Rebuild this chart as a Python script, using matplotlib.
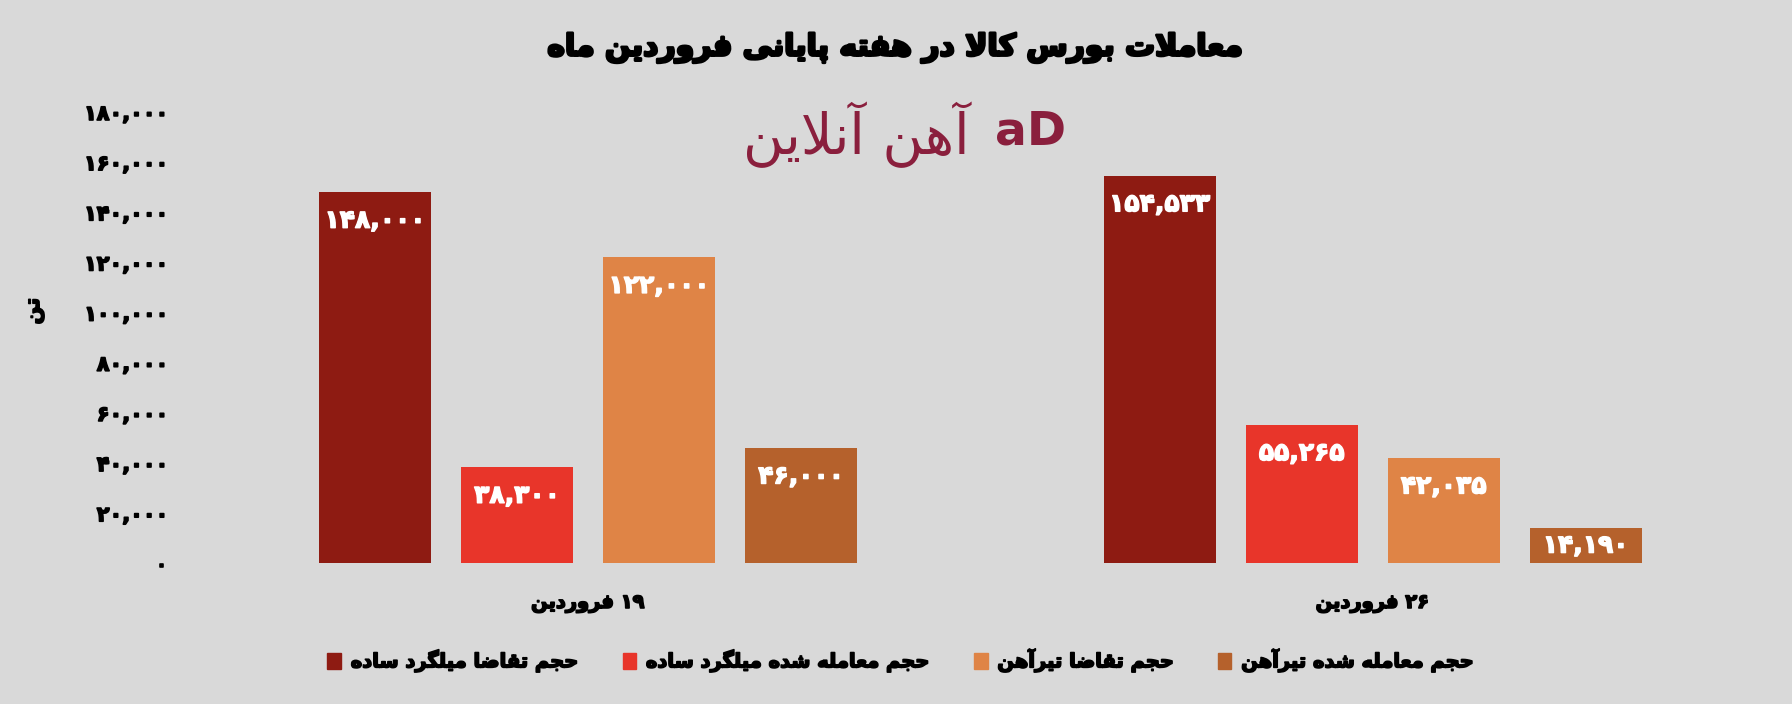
import re
import matplotlib
matplotlib.use("Agg")
import matplotlib.pyplot as plt
import matplotlib.patheffects as pe
from matplotlib.patches import Patch

# chart data
categories = ["۱۹ فروردین", "۲۶ فروردین"]
series_names = [
    "حجم تقاضا میلگرد ساده",
    "حجم معامله شده میلگرد ساده",
    "حجم تقاضا تیرآهن",
    "حجم معامله شده تیرآهن",
]
demand_rebar = [148000, 154533]
traded_rebar = [38300, 55265]
demand_beam = [122000, 42035]
traded_beam = [46000, 14190]
y_ticks = [0, 20000, 40000, 60000, 80000, 100000, 120000, 140000, 160000, 180000]

title = "معاملات بورس کالا در هفته پایانی فروردین ماه"
y_label = "تن"
logo_text = "آهن آنلاین"

colors = ["#8e1b12", "#e8352a", "#df8446", "#b5612c"]
bg = "#d9d9d9"

# --- tiny arabic/persian shaper (matplotlib has no text shaping) ---
FORMS = {
    "ا": ("\ufe8d", "\ufe8e", None, None),
    "آ": ("\ufe81", "\ufe82", None, None),
    "ب": ("\ufe8f", "\ufe90", "\ufe91", "\ufe92"),
    "پ": ("\ufb56", "\ufb57", "\ufb58", "\ufb59"),
    "ت": ("\ufe95", "\ufe96", "\ufe97", "\ufe98"),
    "ج": ("\ufe9d", "\ufe9e", "\ufe9f", "\ufea0"),
    "ح": ("\ufea1", "\ufea2", "\ufea3", "\ufea4"),
    "د": ("\ufea9", "\ufeaa", None, None),
    "ر": ("\ufead", "\ufeae", None, None),
    "ز": ("\ufeaf", "\ufeb0", None, None),
    "س": ("\ufeb1", "\ufeb2", "\ufeb3", "\ufeb4"),
    "ش": ("\ufeb5", "\ufeb6", "\ufeb7", "\ufeb8"),
    "ض": ("\ufebd", "\ufebe", "\ufebf", "\ufec0"),
    "ع": ("\ufec9", "\ufeca", "\ufecb", "\ufecc"),
    "ف": ("\ufed1", "\ufed2", "\ufed3", "\ufed4"),
    "ق": ("\ufed5", "\ufed6", "\ufed7", "\ufed8"),
    "ک": ("\ufb8e", "\ufb8f", "\ufb90", "\ufb91"),
    "گ": ("\ufb92", "\ufb93", "\ufb94", "\ufb95"),
    "ل": ("\ufedd", "\ufede", "\ufedf", "\ufee0"),
    "م": ("\ufee1", "\ufee2", "\ufee3", "\ufee4"),
    "ن": ("\ufee5", "\ufee6", "\ufee7", "\ufee8"),
    "ه": ("\ufee9", "\ufeea", "\ufeeb", "\ufeec"),
    "و": ("\ufeed", "\ufeee", None, None),
    "ی": ("\ufbfc", "\ufbfd", "\ufbfe", "\ufbff"),
}
LAM_ALEF = {"ا": ("\ufefb", "\ufefc"), "آ": ("\ufef5", "\ufef6")}


def dual(c):
    return c in FORMS and FORMS[c][2] is not None


def shape(text):
    out = []
    i = 0
    n = len(text)
    while i < n:
        c = text[i]
        if c not in FORMS:
            out.append(c)
            i += 1
            continue
        jp = i > 0 and dual(text[i - 1])
        if c == "ل" and i + 1 < n and text[i + 1] in LAM_ALEF:
            iso, fin = LAM_ALEF[text[i + 1]]
            out.append(fin if jp else iso)
            i += 2
            continue
        jn = dual(c) and i + 1 < n and text[i + 1] in FORMS
        iso, fin, ini, med = FORMS[c]
        if jp and jn:
            out.append(med)
        elif jp:
            out.append(fin)
        elif jn:
            out.append(ini)
        else:
            out.append(iso)
        i += 1
    vis = "".join(out)[::-1]
    # digit runs stay left to right
    return re.sub(r"[0-9۰-۹,]+", lambda m: m.group(0)[::-1], vis)


def fa_num(v):
    s = f"{v:,}"
    return s.translate(str.maketrans("0123456789", "۰۱۲۳۴۵۶۷۸۹"))


plt.rcParams["font.family"] = ["DejaVu Sans"]
heavy = [pe.withStroke(linewidth=1.2, foreground="black")]

fig = plt.figure(figsize=(17.92, 7.04), dpi=100, facecolor=bg)
ax = fig.add_axes([0.1092, 0.1997, 0.8757, 0.6412])
ax.set_facecolor(bg)
ax.set_xlim(-0.5, 1.5)
ax.set_ylim(0, 180000)

# points per data unit, to keep labels inside short bars
pt_per_unit = 0.6412 * 7.04 * 72 / 180000

values = [demand_rebar, traded_rebar, demand_beam, traded_beam]
width = 0.1428
step = 0.181
x = [0, 1]
for k, vals in enumerate(values):
    xs = [xi + (k - 1.5) * step for xi in x]
    bars = ax.bar(xs, vals, width=width, color=colors[k], label=shape(series_names[k]))
    for b, v in zip(bars, vals):
        off = min(20.5, v * pt_per_unit / 2)
        ax.annotate(fa_num(v), (b.get_x() + b.get_width() / 2, v),
                    xytext=(0, -off), textcoords="offset points",
                    ha="center", va="center", color="white",
                    fontsize=18, fontweight="bold",
                    path_effects=[pe.withStroke(linewidth=1.0, foreground="white")])

ax.set_yticks(y_ticks)
ax.set_yticklabels([fa_num(t) for t in y_ticks], fontsize=15, fontweight="bold")
ax.set_xticks(x)
ax.set_xticklabels([shape(c) for c in categories], fontsize=14, fontweight="bold")
ax.tick_params(axis="y", length=0, pad=20)
ax.tick_params(axis="x", length=0, pad=22)
for lab in ax.get_yticklabels() + ax.get_xticklabels():
    lab.set_path_effects(heavy)
for s in ax.spines.values():
    s.set_visible(False)

fig.text(0.5, 0.932, shape(title), ha="center", va="center",
         fontsize=21.5, fontweight="bold", path_effects=[pe.withStroke(linewidth=2.0, foreground="black")])
fig.text(0.019, 0.558, shape(y_label), ha="center", va="center", rotation=90,
         fontsize=15, fontweight="bold", path_effects=heavy)

# logo
fig.text(0.541, 0.808, shape(logo_text), ha="right", va="center",
         fontsize=40, color="#8a1f3d")
fig.text(0.555, 0.812, "aD", ha="left", va="center",
         fontsize=34, fontweight="bold", color="#8a1f3d")

handles = [Patch(color=colors[k]) for k in range(4)]
leg = fig.legend(handles, [shape(s) for s in series_names], loc="center",
                 bbox_to_anchor=(0.503, 0.062), ncol=4, frameon=False,
                 handlelength=0.7, handleheight=0.9, handletextpad=0.5,
                 columnspacing=2.2, prop={"size": 14, "weight": "bold"})
for t in leg.get_texts():
    t.set_path_effects(heavy)

fig.savefig("out.png", dpi=100, facecolor=bg)
